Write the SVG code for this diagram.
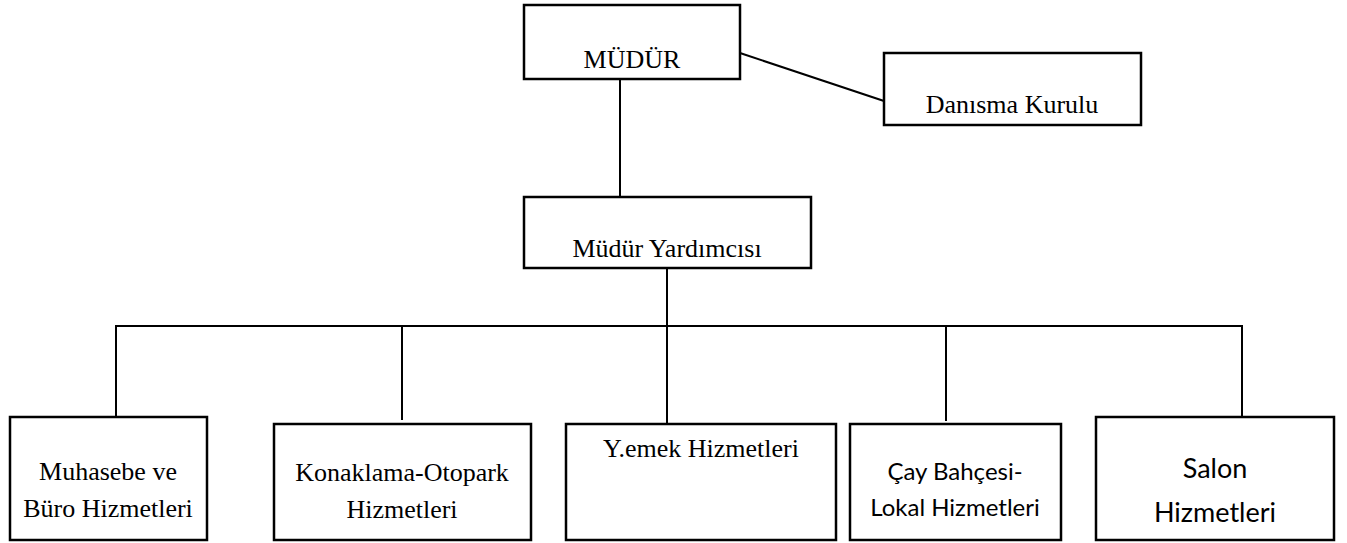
<svg xmlns="http://www.w3.org/2000/svg" width="1347" height="543" viewBox="0 0 1347 543">
<style>
.box{fill:#fff;stroke:#000;stroke-width:2.5}
.ln{fill:none;stroke:#000;stroke-width:2}
.t{font-family:"Liberation Serif","Times New Roman",serif;font-size:26px;fill:#000;text-anchor:middle}
.s{font-family:Lato,"Liberation Sans",Arial,sans-serif;font-size:24px;fill:#000;text-anchor:middle}
.l{font-family:Lato,"Liberation Sans",Arial,sans-serif;font-size:27px;fill:#000;text-anchor:middle}
</style>
<rect width="1347" height="543" fill="#fff"/>
<g id="connectors">
<line class="ln" x1="740" y1="53" x2="884" y2="101"/>
<line class="ln" x1="620" y1="79" x2="620" y2="197"/>
<line class="ln" x1="667" y1="268" x2="667" y2="326"/>
<polyline class="ln" points="116,417 116,326 1242,326 1242,417"/>
<line class="ln" x1="402" y1="326" x2="402" y2="420"/>
<line class="ln" x1="667" y1="326" x2="667" y2="423"/>
<line class="ln" x1="946" y1="326" x2="946" y2="421"/>
</g>
<g id="mudur">
<rect class="box" x="524" y="5" width="216" height="74"/>
<text class="t" x="632" y="68">MÜDÜR</text>
</g>
<g id="danisma">
<rect class="box" x="884" y="53" width="257" height="72"/>
<text class="t" x="1012" y="113">Danısma Kurulu</text>
</g>
<g id="yardimci">
<rect class="box" x="524" y="197" width="287" height="71"/>
<text class="t" x="667" y="257">Müdür Yardımcısı</text>
</g>
<g id="muhasebe">
<rect class="box" x="10" y="417" width="197" height="123"/>
<text class="t" x="108" y="480">Muhasebe ve</text>
<text class="t" x="108" y="517">Büro Hizmetleri</text>
</g>
<g id="konaklama">
<rect class="box" x="274" y="424" width="257" height="116"/>
<text class="t" x="402" y="481">Konaklama-Otopark</text>
<text class="t" x="402" y="518">Hizmetleri</text>
</g>
<g id="yemek">
<rect class="box" x="566" y="424" width="270" height="116"/>
<text class="t" x="701" y="457">Y.emek Hizmetleri</text>
</g>
<g id="cay">
<rect class="box" x="850" y="424" width="211" height="116"/>
<text class="s" x="955" y="480">Çay Bahçesi-</text>
<text class="s" x="955" y="516">Lokal Hizmetleri</text>
</g>
<g id="salon">
<rect class="box" x="1096" y="417" width="238" height="123"/>
<text class="l" x="1215" y="478">Salon</text>
<text class="l" x="1215" y="522">Hizmetleri</text>
</g>
</svg>
